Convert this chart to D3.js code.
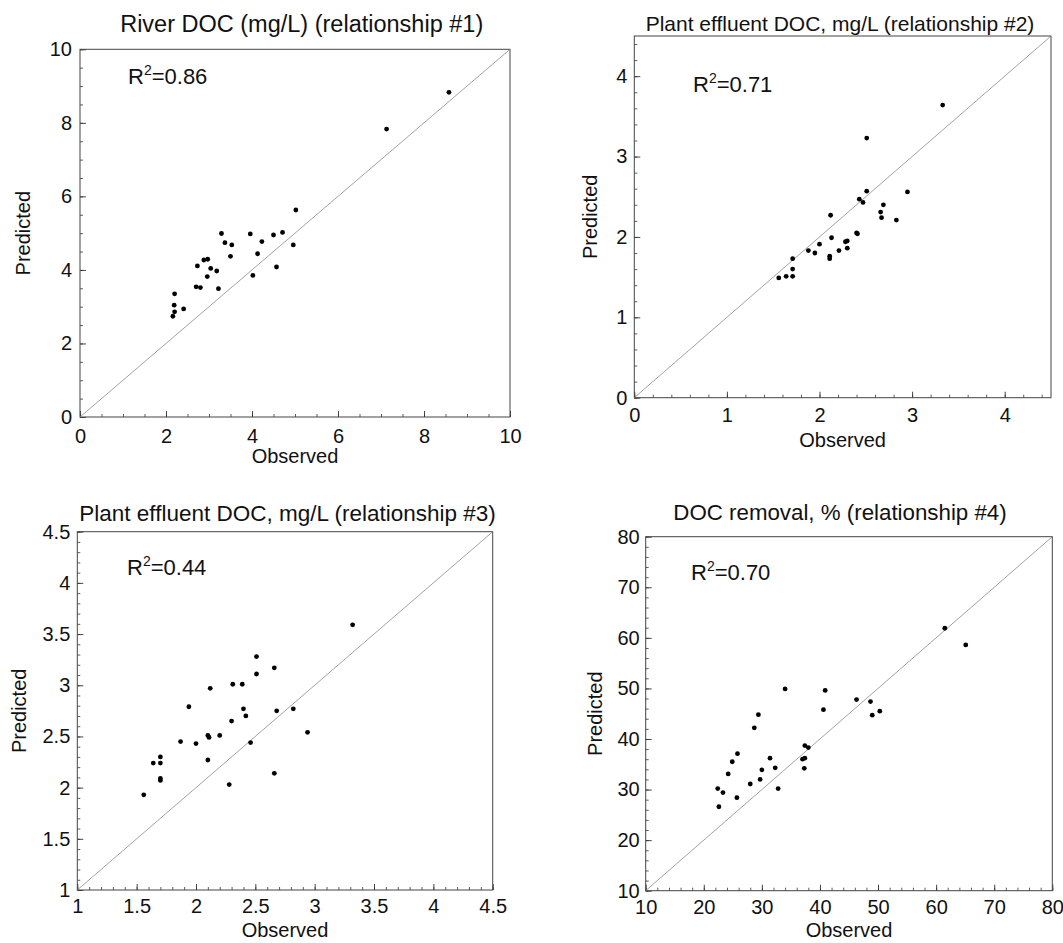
<!DOCTYPE html>
<html>
<head>
<meta charset="utf-8">
<script src="https://cdn.jsdelivr.net/npm/d3@7"></script>
<style>
  html, body { margin: 0; padding: 0; background: #fff; }
  svg { display: block; }
  text { font-family: "Liberation Sans", Arial, sans-serif; fill: #111; }
</style>
</head>
<body>
<svg id="chart" width="1063" height="943"></svg>
<script>
// ---------- Data ----------
const titles = [
  "River DOC (mg/L) (relationship #1)",
  "Plant effluent DOC, mg/L (relationship #2)",
  "Plant effluent DOC, mg/L (relationship #3)",
  "DOC removal, % (relationship #4)"
];
const r2Values = ["0.86", "0.71", "0.44", "0.70"];
const xAxisTitle = "Observed";
const yAxisTitle = "Predicted";

// Panel 1: River DOC
const p1Observed  = [8.58,7.13,5.02,3.29,3.96,4.50,4.71,3.37,3.53,4.23,4.96,3.50,4.13,2.88,2.97,2.73,3.04,3.18,2.96,4.57,4.02,2.70,2.80,3.22,2.20,2.19,2.20,2.16,2.41];
const p1Predicted = [8.83,7.83,5.63,4.99,4.98,4.95,5.02,4.74,4.68,4.77,4.68,4.37,4.44,4.27,4.29,4.11,4.04,3.97,3.82,4.08,3.85,3.54,3.52,3.49,3.35,3.04,2.86,2.74,2.94];
const p1Ticks = [0, 2, 4, 6, 8, 10];
const p1TickLabels = ["0", "2", "4", "6", "8", "10"];

// Panel 2: Plant effluent DOC (#2)
const p2Observed  = [3.33,2.51,2.51,2.95,2.43,2.47,2.69,2.66,2.67,2.83,2.12,2.40,2.41,2.13,2.00,2.30,2.28,2.30,2.21,1.88,1.95,2.11,2.11,1.71,1.71,1.71,1.64,1.56];
const p2Predicted = [3.64,3.23,2.57,2.56,2.47,2.43,2.40,2.31,2.24,2.21,2.27,2.05,2.04,1.99,1.91,1.95,1.94,1.86,1.83,1.83,1.80,1.76,1.73,1.73,1.60,1.51,1.51,1.49];
const p2Ticks = [0, 1, 2, 3, 4];
const p2TickLabels = ["0", "1", "2", "3", "4"];

// Panel 3: Plant effluent DOC (#3)
const p3Observed  = [3.32,2.51,2.66,2.51,2.31,2.39,2.12,1.94,2.40,2.82,2.68,2.42,2.30,2.94,2.10,2.11,2.20,1.87,2.00,2.46,2.10,1.70,1.64,1.70,1.70,1.70,2.66,2.28,1.56];
const p3Predicted = [3.59,3.28,3.17,3.11,3.01,3.01,2.97,2.79,2.77,2.77,2.75,2.70,2.65,2.54,2.51,2.49,2.51,2.45,2.43,2.44,2.27,2.30,2.24,2.24,2.09,2.07,2.14,2.03,1.93];
const p3Ticks = [1, 1.5, 2, 2.5, 3, 3.5, 4, 4.5];
const p3TickLabels = ["1", "1.5", "2", "2.5", "3", "3.5", "4", "4.5"];

// Panel 4: DOC removal %
const p4Observed  = [61.5,65.1,34.0,40.9,46.3,48.7,40.6,50.3,49.0,29.4,28.7,37.4,38.0,25.8,24.9,31.4,37.0,37.4,32.3,30.0,37.3,24.2,28.0,29.7,22.4,23.3,32.8,25.7,22.6];
const p4Predicted = [61.9,58.6,49.9,49.6,47.8,47.4,45.8,45.5,44.7,44.8,42.2,38.7,38.3,37.1,35.5,36.2,36.0,36.2,34.3,33.9,34.2,33.1,31.1,32.0,30.2,29.4,30.2,28.4,26.6];
const p4Ticks = [10, 20, 30, 40, 50, 60, 70, 80];
const p4TickLabels = ["10", "20", "30", "40", "50", "60", "70", "80"];

// ---------- Layout (positions & styles) ----------
const panels = [
  { obs: p1Observed, pred: p1Predicted, ticks: p1Ticks, labels: p1TickLabels,
    domain: [0, 10], minorStep: 0.5,
    x0: 80, x1: 510, y0: 417, y1: 49.3,
    title: { x: 301.7, y: 32, size: 23.5 },
    r2: { x: 128, y: 84 },
    xTitleY: 463, yTitleX: 30, xPad: 12, yPad: 8 },
  { obs: p2Observed, pred: p2Predicted, ticks: p2Ticks, labels: p2TickLabels,
    domain: [0, 4.5], minorStep: 0.2,
    x0: 634.3, x1: 1051, y0: 397.7, y1: 36,
    title: { x: 840, y: 31, size: 21 },
    r2: { x: 693, y: 92 },
    xTitleY: 447, yTitleX: 597, xPad: 10, yPad: 7 },
  { obs: p3Observed, pred: p3Predicted, ticks: p3Ticks, labels: p3TickLabels,
    domain: [1, 4.5], minorStep: 0.1,
    x0: 77.3, x1: 492.7, y0: 890, y1: 531.7,
    title: { x: 287.5, y: 521, size: 22.5 },
    r2: { x: 127, y: 575 },
    xTitleY: 937, yTitleX: 26, xPad: 9, yPad: 7 },
  { obs: p4Observed, pred: p4Predicted, ticks: p4Ticks, labels: p4TickLabels,
    domain: [10, 80], minorStep: 2,
    x0: 645.7, x1: 1052.3, y0: 890.7, y1: 536.7,
    title: { x: 840, y: 520, size: 22.3 },
    r2: { x: 691, y: 580 },
    xTitleY: 937, yTitleX: 602, xPad: 9, yPad: 6 }
];

const svg = d3.select("#chart");
const FONT_TICK = 20;
const FONT_AXIS = 20;
const FONT_R2 = 22;

panels.forEach((p, i) => {
  const x = d3.scaleLinear().domain(p.domain).range([p.x0, p.x1]);
  const y = d3.scaleLinear().domain(p.domain).range([p.y0, p.y1]);
  const g = svg.append("g");

  const minor = d3.range(p.domain[0], p.domain[1] + p.minorStep / 2, p.minorStep)
    .map(v => +v.toFixed(4));
  const lbl = d => p.labels[p.ticks.indexOf(d)];

  // minor ticks (inward)
  g.append("g").attr("transform", `translate(0,${p.y0})`)
    .call(d3.axisBottom(x).tickValues(minor).tickSize(-3).tickFormat(""))
    .call(a => a.select(".domain").remove())
    .call(a => a.selectAll("line").attr("stroke", "#333").attr("stroke-width", 0.8));
  g.append("g").attr("transform", `translate(${p.x0},0)`)
    .call(d3.axisLeft(y).tickValues(minor).tickSize(-3).tickFormat(""))
    .call(a => a.select(".domain").remove())
    .call(a => a.selectAll("line").attr("stroke", "#333").attr("stroke-width", 0.8));

  // major ticks + labels
  g.append("g").attr("transform", `translate(0,${p.y0})`)
    .call(d3.axisBottom(x).tickValues(p.ticks).tickSize(-6).tickPadding(p.xPad).tickFormat(lbl))
    .call(a => a.select(".domain").remove())
    .call(a => a.selectAll("line").attr("stroke", "#333").attr("stroke-width", 0.9))
    .call(a => a.selectAll("text").attr("font-size", FONT_TICK)
      .attr("font-family", '"Liberation Sans", Arial, sans-serif').attr("fill", "#111"));
  g.append("g").attr("transform", `translate(${p.x0},0)`)
    .call(d3.axisLeft(y).tickValues(p.ticks).tickSize(-6).tickPadding(p.yPad).tickFormat(lbl))
    .call(a => a.select(".domain").remove())
    .call(a => a.selectAll("line").attr("stroke", "#333").attr("stroke-width", 0.9))
    .call(a => a.selectAll("text").attr("font-size", FONT_TICK)
      .attr("font-family", '"Liberation Sans", Arial, sans-serif').attr("fill", "#111"));

  // frame
  g.append("rect")
    .attr("x", p.x0).attr("y", p.y1)
    .attr("width", p.x1 - p.x0).attr("height", p.y0 - p.y1)
    .attr("fill", "none").attr("stroke", "#444").attr("stroke-width", 1);

  // 1:1 line
  g.append("line")
    .attr("x1", x(p.domain[0])).attr("y1", y(p.domain[0]))
    .attr("x2", x(p.domain[1])).attr("y2", y(p.domain[1]))
    .attr("stroke", "#8a8a8a").attr("stroke-width", 0.8);

  // points
  g.selectAll("circle.pt").data(p.obs.map((o, k) => [o, p.pred[k]]))
    .join("circle").attr("class", "pt")
    .attr("cx", d => x(d[0])).attr("cy", d => y(d[1]))
    .attr("r", 2.4).attr("fill", "#000");

  // title
  g.append("text")
    .attr("x", p.title.x).attr("y", p.title.y)
    .attr("text-anchor", "middle").attr("font-size", p.title.size)
    .text(titles[i]);

  // R^2
  const r = g.append("text").attr("x", p.r2.x).attr("y", p.r2.y).attr("font-size", FONT_R2);
  r.append("tspan").text("R");
  r.append("tspan").attr("font-size", 14).attr("dy", -9).text("2");
  r.append("tspan").attr("dy", 9).text("=" + r2Values[i]);

  // axis titles
  g.append("text")
    .attr("x", (p.x0 + p.x1) / 2).attr("y", p.xTitleY)
    .attr("text-anchor", "middle").attr("font-size", FONT_AXIS)
    .text(xAxisTitle);
  g.append("text")
    .attr("transform", `translate(${p.yTitleX},${(p.y0 + p.y1) / 2}) rotate(-90)`)
    .attr("text-anchor", "middle").attr("font-size", FONT_AXIS)
    .text(yAxisTitle);
});
</script>
</body>
</html>
